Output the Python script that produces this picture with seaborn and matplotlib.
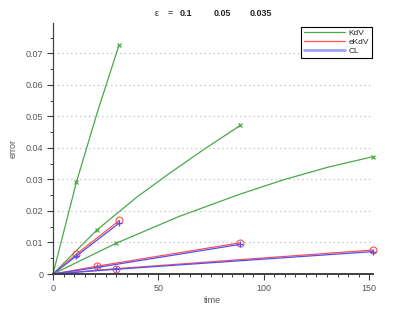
import matplotlib
matplotlib.use('Agg')
import matplotlib.pyplot as plt
from matplotlib.lines import Line2D
from matplotlib.ticker import MultipleLocator
import seaborn as sns

# data: error vs time for eps = 0.1, 0.05, 0.035
kdv_t_01 = [0, 11.1, 21, 31.3]
kdv_e_01 = [0, 0.0291, 0.0512, 0.0725]
kdv_t_005 = [0, 20.9, 40, 55, 72, 88.8]
kdv_e_005 = [0, 0.0140, 0.0245, 0.0318, 0.0397, 0.0471]
kdv_t_0035 = [0, 30.1, 60, 88.6, 109, 130, 151.7]
kdv_e_0035 = [0, 0.0098, 0.0183, 0.0253, 0.0298, 0.0338, 0.0372]

ekdv_t_01 = [0, 11.1, 31.5]
ekdv_e_01 = [0, 0.0063, 0.0170]
ekdv_t_005 = [0, 21.1, 88.8]
ekdv_e_005 = [0, 0.0025, 0.0099]
ekdv_t_0035 = [0, 30, 151.7]
ekdv_e_0035 = [0, 0.0017, 0.0076]

cl_t_01 = [0, 11.1, 31.3]
cl_e_01 = [0, 0.0057, 0.0161]
cl_t_005 = [0, 21.1, 88.8]
cl_e_005 = [0, 0.0021, 0.0094]
cl_t_0035 = [0, 30, 151.7]
cl_e_0035 = [0, 0.0015, 0.0071]

green = '#4aa84a'
red = '#ff5050'
blue = '#5050ff'

sns.set_style('white')
plt.rcParams['font.family'] = ['Liberation Sans', 'DejaVu Sans']

fig = plt.figure(figsize=(4.12, 3.10), dpi=100)
ax = fig.add_axes([0.1286, 0.1161, 0.7767, 0.8097])

# KdV (green, x markers at 2nd and last point)
for t, e in [(kdv_t_01, kdv_e_01), (kdv_t_005, kdv_e_005), (kdv_t_0035, kdv_e_0035)]:
    sns.lineplot(x=t, y=e, ax=ax, color=green, lw=0.9, marker='x', ms=3.5,
                 mec=green, mew=0.9, markevery=[1, len(t) - 1], sort=False,
                 clip_on=False)

# eKdV (red, open circles)
for t, e in [(ekdv_t_01, ekdv_e_01), (ekdv_t_005, ekdv_e_005), (ekdv_t_0035, ekdv_e_0035)]:
    sns.lineplot(x=t, y=e, ax=ax, color=red, lw=0.9, marker='o', ms=5,
                 mfc='none', mec=red, mew=0.8, markevery=[1, 2], sort=False,
                 clip_on=False)

# CL (blue, plus markers)
for t, e in [(cl_t_01, cl_e_01), (cl_t_005, cl_e_005), (cl_t_0035, cl_e_0035)]:
    sns.lineplot(x=t, y=e, ax=ax, color=blue, lw=0.9, marker='+', ms=5,
                 mec=blue, mew=0.9, markevery=[1, 2], sort=False,
                 clip_on=False)

ax.set_xlim(0, 151.8)
ax.set_ylim(0, 0.0796)
ax.xaxis.set_major_locator(MultipleLocator(50))
ax.xaxis.set_minor_locator(MultipleLocator(5))
ax.yaxis.set_minor_locator(MultipleLocator(0.005))
ax.set_yticks([0, 0.01, 0.02, 0.03, 0.04, 0.05, 0.06, 0.07])
ax.set_yticklabels(['0', '0.01', '0.02', '0.03', '0.04', '0.05', '0.06', '0.07'])

for y in [0.01, 0.02, 0.03, 0.04, 0.05, 0.06, 0.07]:
    ax.axhline(y, color='#b0b0b0', lw=0.8, ls=(0, (1, 3)), zorder=0)

sns.despine(ax=ax)
ax.spines['left'].set_color('#404040')
ax.spines['bottom'].set_color('#404040')
ax.spines['left'].set_linewidth(0.9)
ax.spines['bottom'].set_linewidth(1.4)
ax.tick_params(which='major', direction='out', length=4, width=0.8,
               colors='#404040', labelsize=6.5, labelcolor='#555555', pad=3,
               bottom=True, left=True)
ax.tick_params(which='minor', direction='out', length=2.5, width=0.7,
               colors='#404040', bottom=True, left=True)

ax.set_xlabel('time', fontsize=6.5, color='#555555', labelpad=2)
ax.set_ylabel('error', fontsize=6.5, color='#555555', labelpad=6)

handles = [Line2D([], [], color=green, lw=0.9),
           Line2D([], [], color=red, lw=0.9),
           Line2D([], [], color='#a0a0ff', lw=2)]
leg = ax.legend(handles, ['KdV', 'eKdV', 'CL'], loc='upper right',
                bbox_to_anchor=(0.996, 0.985), fontsize=6, frameon=True,
                fancybox=False, framealpha=1, edgecolor='black',
                handlelength=5, handletextpad=0.4, borderpad=0.3,
                labelspacing=0.15, borderaxespad=0)
leg.get_frame().set_linewidth(0.8)

fig.text(0.381, 0.958, '\u03b5', fontsize=6.5, ha='center', va='center')
fig.text(0.413, 0.958, '=', fontsize=6.5, ha='center', va='center')
fig.text(0.452, 0.958, '0.1', fontsize=6.5, ha='center', va='center', weight='bold')
fig.text(0.539, 0.958, '0.05', fontsize=6.5, ha='center', va='center', weight='bold')
fig.text(0.632, 0.958, '0.035', fontsize=6.5, ha='center', va='center', weight='bold')

fig.savefig('out.png', dpi=100)
